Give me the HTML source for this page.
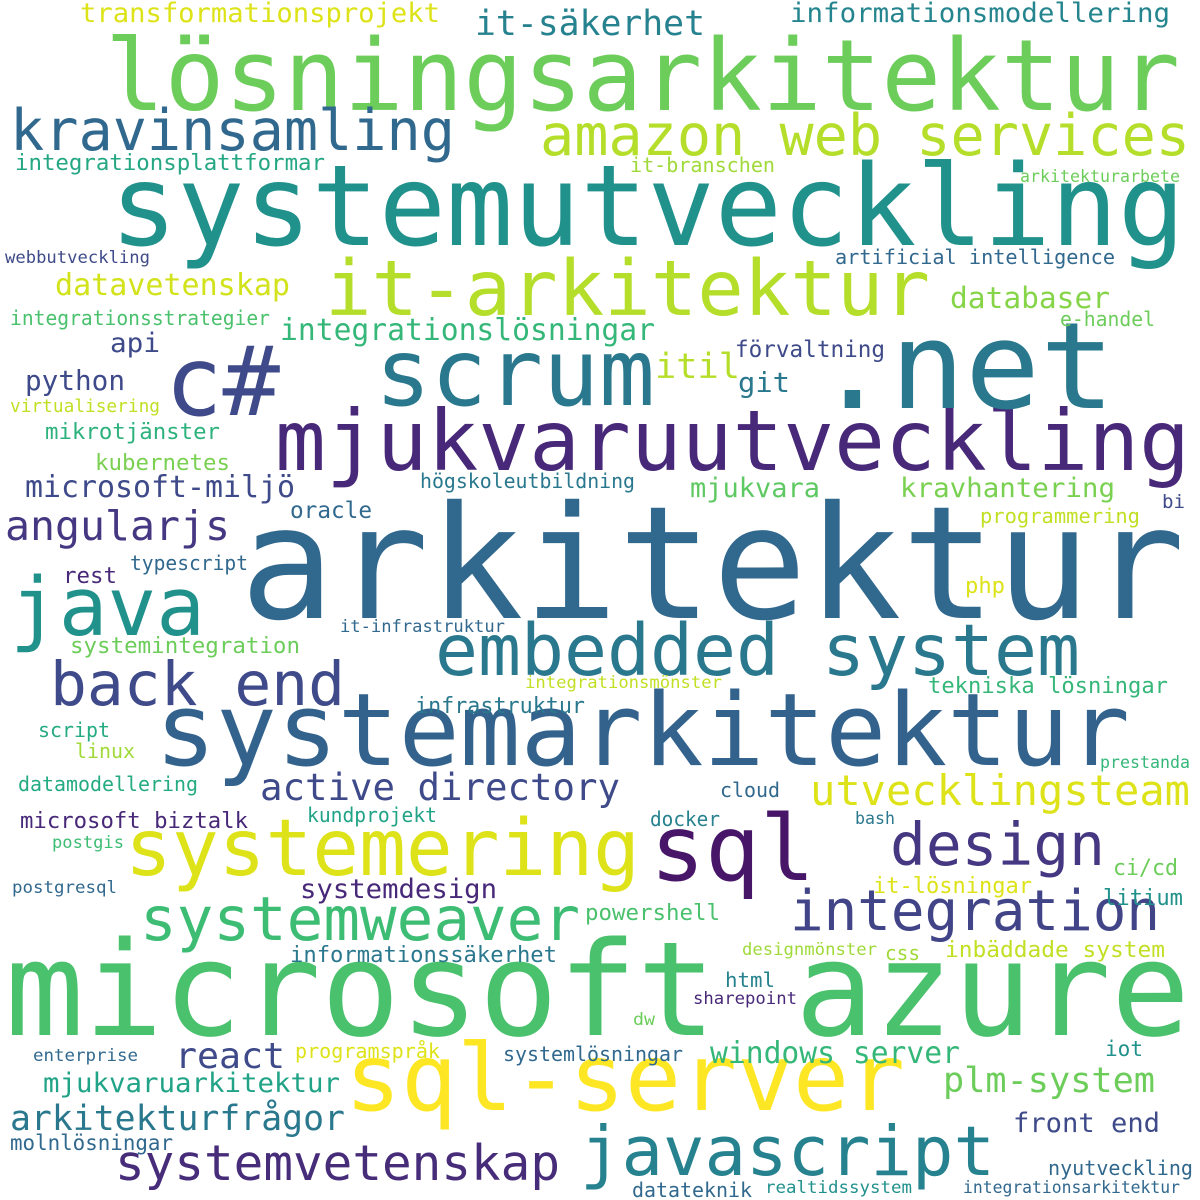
<!DOCTYPE html>
<html><head><meta charset="utf-8"><title>Word cloud</title>
<style>
html,body{margin:0;padding:0;background:#fff;}
svg{display:block;}
text{font-family:"DejaVu Sans Mono","Liberation Mono","Noto Sans CJK SC",monospace;}
</style></head>
<body>
<svg id="cloud" width="1200" height="1200" viewBox="0 0 1200 1200" xmlns="http://www.w3.org/2000/svg">
<rect width="1200" height="1200" fill="#ffffff"/>
</svg>
<script>
const words = ["arkitektur","microsoft azure","systemutveckling","lösningsarkitektur","systemarkitektur","mjukvaruutveckling","sql-server","systemering",".net","c#","scrum","sql","it-arkitektur","java","embedded system","back end","amazon web services","kravinsamling","javascript","design","integration","systemweaver","systemvetenskap","arkitekturfrågor","utvecklingsteam","active directory","angularjs","it-säkerhet","transformationsprojekt","informationsmodellering","integrationsplattformar","it-branschen","arkitekturarbete","webbutveckling","artificial intelligence","datavetenskap","databaser","integrationsstrategier","integrationslösningar","e-handel","api","itil","förvaltning","python","virtualisering","git","mikrotjänster","kubernetes","microsoft-miljö","högskoleutbildning","mjukvara","kravhantering","bi","oracle","programmering","typescript","rest","php","it-infrastruktur","systemintegration","integrationsmönster","tekniska lösningar","infrastruktur","script","linux","prestanda","datamodellering","cloud","microsoft biztalk","kundprojekt","docker","bash","postgis","ci/cd","systemdesign","it-lösningar","postgresql","litium","powershell","informationssäkerhet","designmönster","css","inbäddade system","html","sharepoint","dw","enterprise","react","programspråk","systemlösningar","windows server","iot","mjukvaruarkitektur","plm-system","front end","molnlösningar","nyutveckling","datateknik","realtidssystem","integrationsarkitektur"];
const sizes = [157,131,112,99,101,84,93,78,120,96,93,91,77,81,71,61,57,57,69,59,56,61,49,35,42,37,41,35,27,27,22,20,17,17,20,30,29,20,30,20,27,35,23,28,18,28,22,22,30,20,27,27,19,23,20,20,22,22,17,22,17,22,22,20,20,17,20,20,22,20,20,17,17,22,27,22,17,22,22,22,17,20,22,20,17,17,17,36,20,20,30,21,27,35,27,21,20,20,17,17];
const lefts = [240,5,110,105,155,275,345,125,815,165,375,650,325,10,435,50,540,10,580,890,790,140,115,10,810,260,5,475,80,790,15,630,1020,5,835,55,950,10,280,1060,110,655,735,25,10,738,45,95,25,420,690,900,1162,290,980,130,63,965,340,70,525,928,415,38,75,1100,18,720,20,307,650,855,52,1113,300,873,12,1103,585,290,742,885,945,725,693,633,33,175,295,503,710,1105,43,943,1013,10,1048,632,765,963];
const rights = [1185,1190,1185,1180,1130,1190,905,640,1115,280,655,815,930,205,1080,345,1190,455,995,1105,1160,580,560,345,1190,620,230,705,440,1170,325,775,1180,150,1115,290,1110,270,655,1155,160,740,885,125,160,790,220,230,295,635,820,1115,1185,372,1140,248,117,1005,505,300,722,1168,585,110,135,1190,198,780,248,437,720,895,124,1178,497,1032,117,1183,720,557,877,920,1165,775,797,655,138,285,440,683,960,1143,340,1155,1160,173,1193,752,912,1180];
const baselines = [618,1035,245,110,765,470,1110,875,408,415,405,880,315,635,675,705,155,150,1175,865,930,940,1180,1130,805,800,540,35,22,22,170,172,182,263,264,295,308,325,340,326,352,378,357,390,412,392,439,470,497,488,497,497,508,518,523,570,583,593,632,653,688,693,713,737,758,768,791,797,828,822,826,824,848,875,898,893,893,905,920,962,955,960,957,987,1004,1025,1061,1068,1058,1061,1063,1056,1092,1092,1132,1150,1175,1197,1193,1193];
const colors = ["#31688e","#4ac16d","#21918c","#6ccd5a","#33638d","#482878","#fde725","#dde318","#2a788e","#3e4a89","#2a788e","#481668","#b5de2b","#21918c","#2a788e","#3e4a89","#b5de2b","#31688e","#26828e","#453781","#414487","#3dbc74","#472c7a","#2a788e","#dde318","#3e4a89","#453781","#26828e","#dde318","#25858e","#26a784","#a0da39","#6ccd5a","#3e4a89","#31688e","#d2e21b","#86d549","#4ac16d","#35b779","#6ccd5a","#3e4a89","#b5de2b","#3e4a89","#3e4a89","#c2df23","#2a788e","#2db27d","#7ad151","#3e4a89","#2a788e","#5ec962","#7ad151","#3e4a89","#31688e","#c2df23","#31688e","#482878","#dde318","#31688e","#6ccd5a","#c2df23","#35b779","#2a788e","#25ab82","#a0da39","#35b779","#25ab82","#31688e","#482878","#20a386","#26828e","#2a788e","#3dbc74","#6ccd5a","#482878","#dde318","#31688e","#21918c","#4ac16d","#2a788e","#a0da39","#a0da39","#c2df23","#26828e","#482878","#6ccd5a","#31688e","#3e4a89","#dde318","#31688e","#35b779","#21918c","#20a386","#6ccd5a","#3e4a89","#31688e","#31688e","#31688e","#21918c","#31688e"];

const svg = document.getElementById('cloud');
const NS = 'http://www.w3.org/2000/svg';
for (let i = 0; i < words.length; i++) {
  const t = document.createElementNS(NS, 'text');
  
  
  t.setAttribute('x', lefts[i]);
  t.setAttribute('y', baselines[i]);
  t.setAttribute('font-size', sizes[i]);
  t.setAttribute('fill', colors[i]);
  t.setAttribute('textLength', rights[i] - lefts[i]);
  t.setAttribute('lengthAdjust', 'spacingAndGlyphs');
  t.textContent = words[i];
  svg.appendChild(t);
}
</script>
</body></html>
